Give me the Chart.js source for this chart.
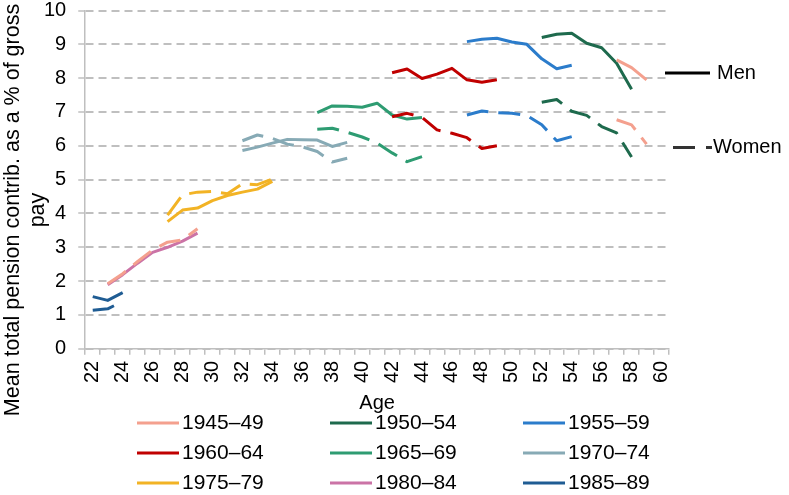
<!DOCTYPE html>
<html>
<head>
<meta charset="utf-8">
<title>Mean total pension contributions by age and birth cohort</title>
<script src="https://cdn.jsdelivr.net/npm/chart.js@4.4.1/dist/chart.umd.min.js"></script>
<style>
  body { margin: 0; background: #fff; }
  #wrap { position: relative; width: 789px; height: 495px; }
</style>
</head>
<body>
<div id="wrap"><canvas id="chart"></canvas></div>
<script>
// ages on the category axis
const ages = [22, 23, 24, 25, 26, 27, 28, 29, 30, 31, 32, 33, 34, 35, 36, 37, 38, 39, 40,
              41, 42, 43, 44, 45, 46, 47, 48, 49, 50, 51, 52, 53, 54, 55, 56, 57, 58, 59, 60];

const cohorts = ['1945–49', '1950–54', '1955–59', '1960–64', '1965–69', '1970–74', '1975–79', '1980–84', '1985–89'];
const firstAge = [57, 52, 47, 42, 37, 32, 27, 23, 22];

// men (solid lines)
const men4549 = [8.54, 8.31, 7.95];
const men5054 = [9.2, 9.3, 9.33, 9.03, 8.9, 8.44, 7.67];
const men5559 = [9.08, 9.15, 9.18, 9.07, 9.0, 8.57, 8.28, 8.38];
const men6064 = [8.16, 8.27, 7.99, 8.12, 8.29, 7.95, 7.88, 7.95];
const men6569 = [6.98, 7.18, 7.17, 7.14, 7.26, 6.91, 6.79, 6.84];
const men7074 = [5.86, 5.96, 6.08, 6.19, 6.18, 6.17, 5.98, 6.1];
const men7579 = [3.76, 4.1, 4.16, 4.38, 4.53, 4.63, 4.72, 4.95];
const men8084 = [1.89, 2.19, 2.53, 2.85, 3.0, 3.18, 3.42];
const men8589 = [1.54, 1.43, 1.66];

// women (dashed lines)
const women4549 = [6.77, 6.62, 6.05];
const women5054 = [7.29, 7.37, 7.02, 6.9, 6.57, 6.38, 5.67];
const women5559 = [6.91, 7.03, 6.98, 6.96, 6.9, 6.62, 6.15, 6.27];
const women6064 = [6.86, 6.96, 6.84, 6.47, 6.37, 6.24, 5.92, 6.0];
const women6569 = [6.49, 6.52, 6.4, 6.26, 6.08, 5.79, 5.53, 5.68];
const women7074 = [6.15, 6.32, 6.22, 6.05, 5.97, 5.83, 5.52, 5.63];
const women7579 = [3.95, 4.55, 4.63, 4.65, 4.58, 4.88, 4.85, 5.02];
const women8084 = [1.92, 2.22, 2.58, 2.92, 3.15, 3.22, 3.55];
const women8589 = [1.14, 1.18, 1.4];

const menSeries = [men4549, men5054, men5559, men6064, men6569, men7074, men7579, men8084, men8589];
const womenSeries = [women4549, women5054, women5559, women6064, women6569, women7074, women7579, women8084, women8589];

const menColors = ['#F4A08E', '#1E6A4D', '#2B7CCB', '#C00000', '#2E9C72', '#87AAB5', '#F2B325', '#CB73A6', '#1F5C93'];
const womenColors = ['#F4A08E', '#1E6A4D', '#2B7CCB', '#C00000', '#2E9C72', '#87AAB5', '#F2B325', '#F4A08E', '#1F5C93'];

const yTicks = [0, 1, 2, 3, 4, 5, 6, 7, 8, 9, 10];
const yTitle = ['Mean total pension contrib. as a % of gross', 'pay'];

const FONT = 'Liberation Sans, Arial, sans-serif';
Chart.defaults.font.family = FONT;
Chart.defaults.font.size = 20;
Chart.defaults.color = '#000';

function spread(start, values) {
    const out = ages.map(() => null);
    values.forEach((v, i) => { out[ages.indexOf(start + i)] = v; });
    return out;
}

const datasets = [];
cohorts.forEach((name, i) => {
    datasets.push({
        label: name + ' men',
        data: spread(firstAge[i], menSeries[i]),
        borderColor: menColors[i],
        borderWidth: 3,
        pointRadius: 0,
        tension: 0,
        borderJoinStyle: 'round',
        order: 1
    });
    datasets.push({
        label: name + ' women',
        data: spread(firstAge[i], womenSeries[i]),
        borderColor: womenColors[i],
        borderWidth: 3,
        borderDash: [22, 10],
        pointRadius: 0,
        tension: 0,
        borderJoinStyle: 'round',
        order: 0
    });
});

// y title, Men/Women key and cohort legend drawn onto the canvas
const extras = {
    id: 'extras',
    afterDraw(chart) {
        const ctx = chart.ctx;
        const area = chart.chartArea;
        const y = chart.scales.y;
        ctx.save();
        ctx.fillStyle = '#000';
        ctx.textBaseline = 'middle';

        // y axis title
        ctx.font = '21.5px ' + FONT;
        ctx.textAlign = 'center';
        [13, 38].forEach((x, i) => {
            ctx.save();
            ctx.translate(x, 210);
            ctx.rotate(-Math.PI / 2);
            ctx.fillText(yTitle[i], 0, 0);
            ctx.restore();
        });

        // Men / Women key
        ctx.textAlign = 'left';
        ctx.font = '20px ' + FONT;
        const yMen = y.getPixelForValue(8.15);
        const yWomen = y.getPixelForValue(5.95);
        ctx.lineWidth = 3;
        ctx.strokeStyle = '#000';
        ctx.beginPath();
        ctx.moveTo(area.right - 4, yMen);
        ctx.lineTo(area.right + 41, yMen);
        ctx.stroke();
        ctx.fillText('Men', area.right + 48, yMen);
        ctx.strokeStyle = '#333';
        ctx.setLineDash([22, 11]);
        ctx.beginPath();
        ctx.moveTo(area.right + 4, yWomen);
        ctx.lineTo(area.right + 43, yWomen);
        ctx.stroke();
        ctx.setLineDash([]);
        ctx.fillText('Women', area.right + 44, yWomen);

        // cohort legend, 3 columns
        ctx.font = '21px ' + FONT;
        const colX = [137, 330, 523];
        const rowY = [chart.height - 72, chart.height - 42, chart.height - 12];
        cohorts.forEach((name, i) => {
            const cx = colX[i % 3];
            const cy = rowY[Math.floor(i / 3)];
            ctx.fillStyle = menColors[i];
            ctx.fillRect(cx, cy - 1.5, 42, 3);
            ctx.fillStyle = '#000';
            ctx.fillText(name, cx + 45, cy);
        });
        ctx.restore();
    }
};

new Chart(document.getElementById('chart'), {
    type: 'line',
    data: { labels: ages.map(String), datasets: datasets },
    plugins: [extras],
    options: {
        responsive: true,
        maintainAspectRatio: false,
        animation: false,
        spanGaps: false,
        layout: { padding: { left: 32, right: 120, top: 0, bottom: 80 } },
        plugins: { legend: { display: false }, tooltip: { enabled: false } },
        scales: {
            x: {
                type: 'category',
                offset: true,
                grid: { offset: true, drawOnChartArea: false, tickLength: 6, color: '#BFBFBF', lineWidth: 1.5 },
                border: { color: '#BFBFBF', width: 1.5 },
                ticks: {
                    autoSkip: false,
                    minRotation: 90,
                    maxRotation: 90,
                    padding: 6,
                    callback: function (val, i) { return i % 2 === 0 ? this.getLabelForValue(val) : ''; }
                },
                title: { display: true, text: 'Age', padding: { top: 2, bottom: 0 } }
            },
            y: {
                min: yTicks[0],
                max: yTicks[yTicks.length - 1],
                ticks: { stepSize: 1, padding: 12 },
                grid: { color: '#BFBFBF', lineWidth: 2, tickLength: 7, tickBorderDash: [], tickWidth: 1.5 },
                border: { color: '#BFBFBF', width: 1.5, dash: [8, 5] },
                afterFit(scale) { scale.paddingTop = 10.5; }
            }
        }
    }
});
</script>
</body>
</html>
